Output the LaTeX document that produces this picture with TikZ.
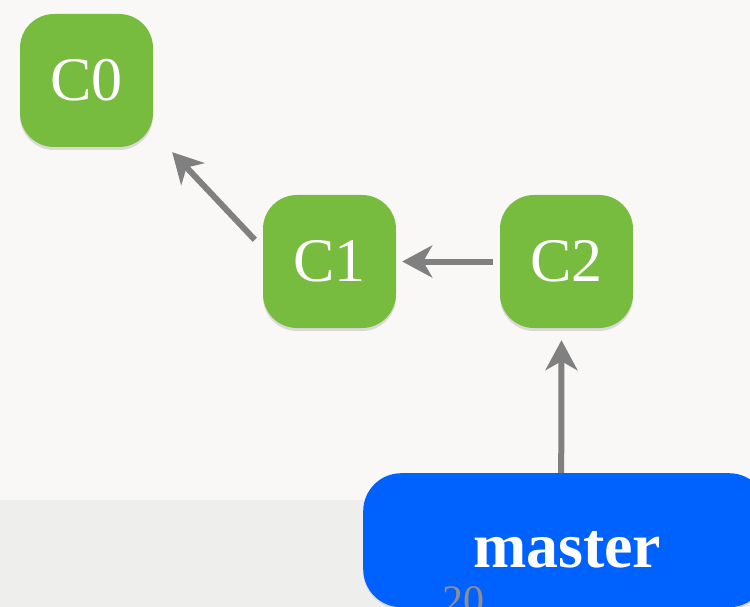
\documentclass[tikz,border=0pt]{standalone}
\usepackage{fontspec}
\setmainfont{Liberation Serif}
\usetikzlibrary{arrows.meta,shadows,calc}
\definecolor{bgtop}{HTML}{F9F8F6}
\definecolor{bgband}{HTML}{EEEEED}
\definecolor{commitgreen}{HTML}{78BC3F}
\definecolor{branchblue}{HTML}{0062FE}
\definecolor{arrowgray}{HTML}{808080}
\definecolor{pagegray}{HTML}{8E8E8E}
\tikzset{
  commit/.style={fill=commitgreen, rounded corners=34pt, minimum width=133pt, minimum height=133pt,
    inner sep=0pt, text=white, font=\fontsize{62}{62}\selectfont,
    drop shadow={opacity=0.25, shadow xshift=0pt, shadow yshift=-3pt}},
  branchbox/.style={fill=branchblue, rounded corners=38pt, minimum width=404pt, minimum height=134pt,
    inner sep=0pt, drop shadow={opacity=0.2, shadow xshift=0pt, shadow yshift=-2pt}},
  conn/.style={draw=arrowgray, line width=6pt, -{Stealth[length=30pt,width=32pt,inset=9pt]}}
}
\begin{document}
\begin{tikzpicture}[x=1pt,y=-1pt]
\useasboundingbox (0,0) rectangle (750,607);
\clip (0,0) rectangle (750,607);
\fill[bgtop] (0,0) rectangle (750,607);
\fill[bgband] (0,500) rectangle (750,607);
\draw[line width=1pt, color=white!85!gray] (0,500) -- (750,500);

\node[commit] (C0) at (86.5,80.5) {C0};
\node[commit] (C1) at (329.5,261.5) {C1};
\node[commit] (C2) at (566.5,261.5) {C2};

\node[branchbox, anchor=north west] (master) at (363,473) {};
\node[anchor=base, text=white, font=\bfseries\fontsize{64}{64}\selectfont] (mastertxt)
  at ($(master.center)+(2,27)$) {master};
\node[anchor=base, text=pagegray, font=\fontsize{42}{42}\selectfont] (pagenum) at (463,614) {20};

\draw[conn] ($(C1.north west)+(-8,45)$) -- ($(C0.south east)+(19,5)$);
\draw[conn] ($(C2.west)+(-7,0)$) -- ($(C1.east)+(6,0)$);
\draw[conn] ($(master.north)+(-4,0)$) -- ($(C2.south)+(-5,12)$);
\end{tikzpicture}
\end{document}
